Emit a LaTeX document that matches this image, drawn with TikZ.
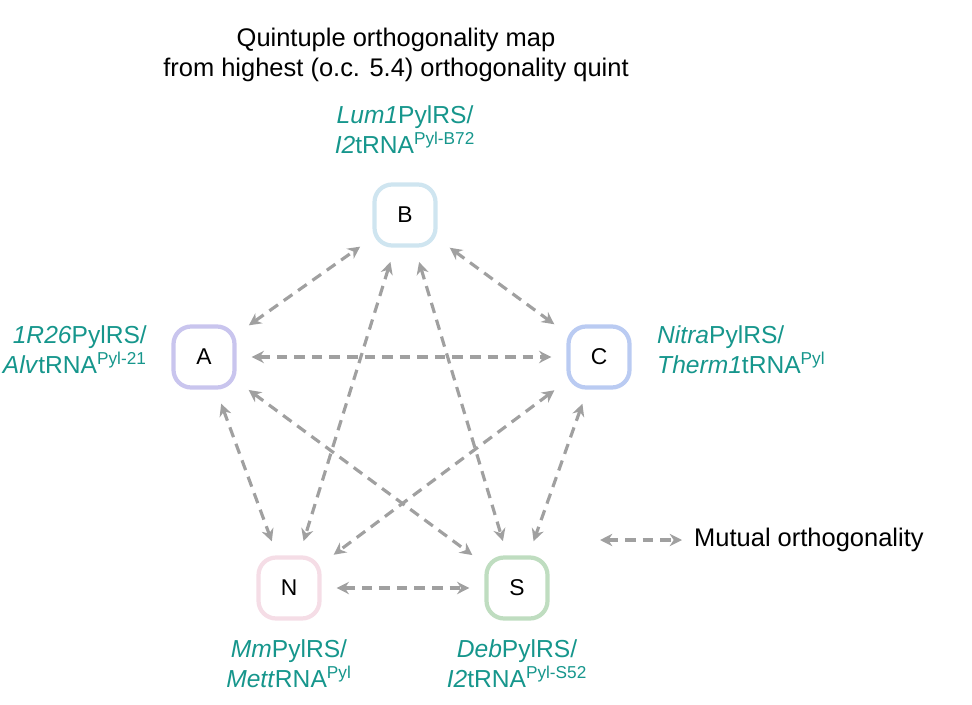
\documentclass[tikz,border=0pt]{standalone}
\usepackage{fontspec}
\setmainfont{Liberation Sans}
\usetikzlibrary{positioning}
\usetikzlibrary{arrows.meta}
\definecolor{teal1}{HTML}{16968C}
\definecolor{arrgray}{HTML}{A0A0A0}
\definecolor{colB}{HTML}{CFE5F0}
\definecolor{colA}{HTML}{C9C5EE}
\definecolor{colC}{HTML}{BACBF2}
\definecolor{colN}{HTML}{F5DDE6}
\definecolor{colS}{HTML}{BFDDC0}
\tikzset{vert/.style={draw, line width=2.4pt, rounded corners=10pt, minimum size=1.22cm, inner sep=0pt, fill=white, font=\fontsize{13}{15}\selectfont}}
\tikzset{lab/.style={text=teal1, align=center, font=\fontsize{14}{17}\selectfont}}
\tikzset{mo/.style={{Stealth[length=7pt,width=7pt]}-{Stealth[length=7pt,width=7pt]}, arrgray, line width=1.8pt, dash pattern=on 6pt off 4pt, shorten <=0.3cm, shorten >=0.3cm}}
\begin{document}
\begin{tikzpicture}[x=0.02cm, y=-0.02cm]
        \useasboundingbox (0,0) rectangle (972,705);
        \node[align=center, font=\fontsize{14.5}{17.5}\selectfont] (title) at (396,55) {Quintuple orthogonality map\\from highest (o.c. 5.4) orthogonality quint};

        \node[vert, draw=colB] (B) at (405,215) {B};
        \node[vert, draw=colA] (A) at (204,357) {A};
        \node[vert, draw=colC] (C) at (599,357) {C};
        \node[vert, draw=colN] (N) at (289,588) {N};
        \node[vert, draw=colS] (S) at (517,588) {S};

        \node[lab] (lB) at (405,130) {\textit{Lum1}PylRS/\\\textit{I2}tRNA\textsuperscript{Pyl-B72}};
        \node[lab, align=right, anchor=east] (lA) at (153,350) {\textit{1R26}PylRS/\\\textit{Alv}tRNA\textsuperscript{Pyl-21}};
        \node[lab, align=left, anchor=west] (lC) at (651,350) {\textit{Nitra}PylRS/\\\textit{Therm1}tRNA\textsuperscript{Pyl}};
        \node[lab] (lN) at (289,664) {\textit{Mm}PylRS/\\\textit{Mett}RNA\textsuperscript{Pyl}};
        \node[lab] (lS) at (517,664) {\textit{Deb}PylRS/\\\textit{I2}tRNA\textsuperscript{Pyl-S52}};

        \draw[mo] (A) -- (B);
        \draw[mo] (B) -- (C);
        \draw[mo] (A) -- (C);
        \draw[mo] (A) -- (N);
        \draw[mo] (A) -- (S);
        \draw[mo] (B) -- (N);
        \draw[mo] (B) -- (S);
        \draw[mo] (C) -- (N);
        \draw[mo] (C) -- (S);
        \draw[mo] (N) -- (S);

        \coordinate (k1) at (600,540);
        \coordinate (k2) at (682,540);
        \draw[mo, shorten <=0pt, shorten >=0pt] (k1) -- (k2);
        \node[anchor=west, font=\fontsize{14.5}{17}\selectfont] (key) at (688,540) {Mutual orthogonality};
\end{tikzpicture}
\end{document}
